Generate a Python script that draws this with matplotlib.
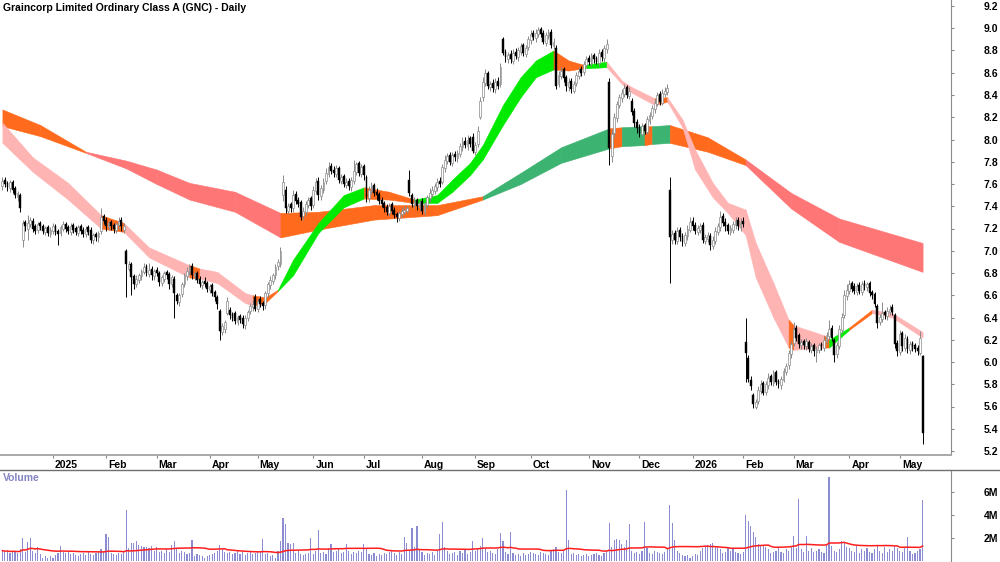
import numpy as np
import pandas as pd
import matplotlib
matplotlib.use("Agg")
import matplotlib.pyplot as plt
from matplotlib.lines import Line2D
from matplotlib.transforms import ScaledTranslation

plt.rcParams['font.family'] = ['Liberation Sans', 'DejaVu Sans']

title = "Graincorp Limited Ordinary Class A (GNC) - Daily"
holidays = ["2024-12-25", "2024-12-26", "2025-01-01", "2025-01-27", "2025-04-18",
            "2025-04-21", "2025-04-25", "2025-06-09", "2025-12-25", "2025-12-26",
            "2026-01-01", "2026-01-26", "2026-04-03", "2026-04-06"]

closes = [7.63, 7.60, 7.57, 7.62, 7.55, 7.50, 7.52, 7.38, 7.25, 7.22,
          7.25, 7.28, 7.20, 7.18, 7.24, 7.22, 7.18, 7.20, 7.16, 7.19,
          7.22, 7.17, 7.15, 7.21, 7.24, 7.20, 7.18, 7.22, 7.19, 7.17,
          7.21, 7.18, 7.15, 7.20, 7.17, 7.10, 7.14, 7.12, 7.16, 7.30,
          7.27, 7.22, 7.25, 7.22, 7.20, 7.24, 7.27, 7.22, 7.22, 6.88,
          6.88, 6.76, 6.70, 6.75, 6.78, 6.82, 6.85, 6.80, 6.83, 6.78,
          6.82, 6.80, 6.72, 6.76, 6.80, 6.78, 6.70, 6.76, 6.62, 6.55,
          6.60, 6.70, 6.78, 6.82, 6.85, 6.78, 6.80, 6.74, 6.70, 6.72,
          6.70, 6.66, 6.68, 6.62, 6.58, 6.52, 6.28, 6.32, 6.36, 6.55,
          6.42, 6.40, 6.37, 6.40, 6.38, 6.34, 6.40, 6.45, 6.50, 6.52,
          6.48, 6.55, 6.52, 6.50, 6.62, 6.70, 6.74, 6.78, 6.85, 6.90,
          7.00, 7.62, 7.38, 7.40, 7.38, 7.50, 7.45, 7.42, 7.30, 7.36,
          7.42, 7.46, 7.40, 7.55, 7.62, 7.50, 7.56, 7.62, 7.70, 7.75,
          7.72, 7.70, 7.74, 7.64, 7.66, 7.60, 7.62, 7.58, 7.64, 7.72,
          7.78, 7.70, 7.75, 7.68, 7.48, 7.55, 7.58, 7.52, 7.50, 7.45,
          7.42, 7.38, 7.35, 7.40, 7.36, 7.32, 7.30, 7.34, 7.36, 7.37,
          7.38, 7.52, 7.42, 7.45, 7.40, 7.44, 7.36, 7.42, 7.48, 7.52,
          7.55, 7.58, 7.62, 7.60, 7.75, 7.82, 7.85, 7.80, 7.86, 7.84,
          7.88, 7.94, 7.98, 7.95, 8.00, 7.96, 7.90, 7.95, 8.08, 8.35,
          8.52, 8.60, 8.48, 8.50, 8.46, 8.52, 8.48, 8.65, 8.78, 8.74,
          8.76, 8.72, 8.78, 8.75, 8.80, 8.84, 8.78, 8.82, 8.90, 8.95,
          8.92, 8.96, 8.98, 8.95, 8.88, 8.94, 8.96, 8.85, 8.88, 8.48,
          8.58, 8.62, 8.55, 8.48, 8.52, 8.45, 8.50, 8.58, 8.62, 8.60,
          8.68, 8.72, 8.70, 8.75, 8.72, 8.70, 8.78, 8.74, 8.82, 8.86,
          7.92, 8.05, 8.20, 8.32, 8.38, 8.42, 8.46, 8.40, 8.44, 8.25,
          8.15, 8.10, 8.06, 8.12, 8.08, 8.18, 8.22, 8.28, 8.33, 8.40,
          8.34, 8.42, 8.44, 8.46, 7.12, 7.15, 7.10, 7.18, 7.12, 7.08,
          7.14, 7.20, 7.26, 7.22, 7.18, 7.20, 7.22, 7.10, 7.12, 7.14,
          7.05, 7.10, 7.18, 7.22, 7.30, 7.25, 7.22, 7.18, 7.20, 7.24,
          7.27, 7.22, 7.26, 7.24, 6.08, 5.85, 5.78, 5.62, 5.64, 5.75,
          5.80, 5.72, 5.80, 5.86, 5.82, 5.90, 5.82, 5.80, 5.85, 5.92,
          5.96, 6.08, 6.16, 6.30, 6.22, 6.16, 6.18, 6.15, 6.19, 6.12,
          6.14, 6.10, 6.12, 6.15, 6.14, 6.20, 6.24, 6.30, 6.22, 6.06,
          6.15, 6.30, 6.40, 6.60, 6.65, 6.70, 6.66, 6.64, 6.68, 6.64,
          6.70, 6.68, 6.70, 6.62, 6.60, 6.52, 6.35, 6.40, 6.44, 6.42,
          6.46, 6.48, 6.45, 6.16, 6.10, 6.25, 6.14, 6.22, 6.12, 6.16,
          6.14, 6.12, 6.10, 6.22, 5.36]

opens = [7.58, 7.64, 7.61, 7.56, 7.62, 7.56, 7.48, 7.50, 7.10, 7.26,
         7.20, 7.24, 7.27, 7.22, 7.19, 7.25, 7.22, 7.17, 7.21, 7.15,
         7.18, 7.22, 7.18, 7.16, 7.20, 7.24, 7.21, 7.17, 7.23, 7.20,
         7.16, 7.22, 7.19, 7.15, 7.21, 7.19, 7.10, 7.15, 7.12, 7.18,
         7.31, 7.28, 7.21, 7.26, 7.23, 7.19, 7.23, 7.28, 7.19, 7.00,
         6.84, 6.88, 6.77, 6.70, 6.74, 6.77, 6.81, 6.86, 6.79, 6.84,
         6.77, 6.83, 6.80, 6.71, 6.75, 6.81, 6.79, 6.70, 6.75, 6.60,
         6.54, 6.61, 6.70, 6.77, 6.81, 6.86, 6.77, 6.80, 6.75, 6.69,
         6.73, 6.71, 6.65, 6.69, 6.63, 6.58, 6.46, 6.27, 6.30, 6.44,
         6.47, 6.43, 6.44, 6.36, 6.41, 6.40, 6.33, 6.40, 6.46, 6.49,
         6.58, 6.48, 6.57, 6.53, 6.51, 6.62, 6.69, 6.73, 6.78, 6.86,
         6.88, 7.50, 7.55, 7.36, 7.42, 7.38, 7.51, 7.46, 7.44, 7.31,
         7.35, 7.41, 7.47, 7.41, 7.54, 7.63, 7.49, 7.55, 7.63, 7.69,
         7.76, 7.73, 7.69, 7.74, 7.63, 7.67, 7.59, 7.63, 7.57, 7.63,
         7.71, 7.79, 7.69, 7.76, 7.66, 7.47, 7.54, 7.59, 7.53, 7.51,
         7.46, 7.43, 7.39, 7.34, 7.42, 7.37, 7.33, 7.29, 7.33, 7.35,
         7.36, 7.64, 7.50, 7.41, 7.46, 7.39, 7.45, 7.35, 7.41, 7.47,
         7.51, 7.54, 7.57, 7.63, 7.62, 7.74, 7.81, 7.86, 7.79, 7.87,
         7.83, 7.87, 7.93, 7.99, 7.94, 8.01, 8.02, 7.89, 7.96, 8.20,
         8.38, 8.51, 8.60, 8.47, 8.51, 8.45, 8.53, 8.50, 8.90, 8.79,
         8.72, 8.77, 8.71, 8.79, 8.74, 8.79, 8.85, 8.77, 8.83, 8.89,
         8.96, 8.91, 8.95, 8.99, 8.96, 8.87, 8.93, 8.97, 8.84, 8.82,
         8.50, 8.57, 8.63, 8.56, 8.47, 8.53, 8.44, 8.51, 8.57, 8.63,
         8.61, 8.67, 8.73, 8.69, 8.76, 8.73, 8.69, 8.79, 8.73, 8.81,
         8.52, 7.85, 8.06, 8.19, 8.31, 8.37, 8.41, 8.47, 8.39, 8.35,
         8.26, 8.16, 8.11, 8.05, 8.13, 8.07, 8.17, 8.21, 8.27, 8.32,
         8.41, 8.33, 8.41, 8.43, 7.55, 7.10, 7.16, 7.09, 7.19, 7.13,
         7.07, 7.13, 7.19, 7.27, 7.23, 7.17, 7.19, 7.23, 7.09, 7.11,
         7.13, 7.04, 7.09, 7.17, 7.21, 7.31, 7.26, 7.23, 7.17, 7.19,
         7.23, 7.28, 7.21, 7.27, 6.18, 6.04, 5.84, 5.70, 5.60, 5.65,
         5.74, 5.81, 5.73, 5.79, 5.87, 5.81, 5.91, 5.83, 5.79, 5.84,
         5.91, 5.97, 6.07, 6.17, 6.31, 6.24, 6.15, 6.19, 6.14, 6.18,
         6.11, 6.15, 6.09, 6.11, 6.16, 6.13, 6.19, 6.23, 6.31, 6.20,
         6.07, 6.14, 6.29, 6.42, 6.59, 6.64, 6.71, 6.68, 6.63, 6.69,
         6.63, 6.71, 6.67, 6.71, 6.63, 6.61, 6.50, 6.36, 6.39, 6.45,
         6.41, 6.45, 6.49, 6.42, 6.17, 6.09, 6.26, 6.13, 6.21, 6.11,
         6.17, 6.15, 6.13, 6.08, 6.05]

highs = [7.66, 7.66, 7.63, 7.64, 7.64, 7.58, 7.54, 7.52, 7.28, 7.28,
         7.32, 7.30, 7.29, 7.24, 7.26, 7.27, 7.24, 7.22, 7.23, 7.21,
         7.25, 7.24, 7.20, 7.23, 7.27, 7.26, 7.23, 7.25, 7.25, 7.22,
         7.23, 7.24, 7.21, 7.22, 7.23, 7.21, 7.16, 7.17, 7.18, 7.38,
         7.33, 7.30, 7.27, 7.28, 7.25, 7.26, 7.30, 7.30, 7.25, 7.02,
         6.91, 6.90, 6.79, 6.78, 6.80, 6.84, 6.89, 6.88, 6.89, 6.86,
         6.84, 6.85, 6.82, 6.78, 6.82, 6.83, 6.81, 6.78, 6.77, 6.62,
         6.62, 6.72, 6.80, 6.85, 6.88, 6.89, 6.82, 6.82, 6.77, 6.74,
         6.76, 6.73, 6.70, 6.71, 6.65, 6.60, 6.48, 6.35, 6.38, 6.58,
         6.49, 6.45, 6.46, 6.42, 6.43, 6.42, 6.42, 6.47, 6.53, 6.56,
         6.61, 6.57, 6.59, 6.55, 6.64, 6.72, 6.77, 6.80, 6.88, 6.93,
         7.03, 7.68, 7.58, 7.43, 7.44, 7.55, 7.54, 7.48, 7.46, 7.39,
         7.45, 7.48, 7.49, 7.58, 7.65, 7.66, 7.59, 7.65, 7.74, 7.80,
         7.79, 7.76, 7.77, 7.76, 7.69, 7.69, 7.65, 7.65, 7.66, 7.82,
         7.80, 7.81, 7.78, 7.78, 7.68, 7.58, 7.62, 7.61, 7.56, 7.53,
         7.48, 7.45, 7.42, 7.43, 7.44, 7.39, 7.35, 7.36, 7.39, 7.40,
         7.40, 7.73, 7.52, 7.48, 7.47, 7.46, 7.47, 7.44, 7.50, 7.56,
         7.58, 7.61, 7.65, 7.66, 7.78, 7.86, 7.88, 7.89, 7.89, 7.90,
         7.91, 7.97, 8.02, 8.02, 8.04, 8.03, 8.06, 7.98, 8.12, 8.38,
         8.56, 8.63, 8.62, 8.53, 8.54, 8.55, 8.56, 8.69, 8.92, 8.81,
         8.79, 8.80, 8.81, 8.82, 8.83, 8.87, 8.87, 8.85, 8.93, 8.98,
         8.98, 8.99, 9.01, 9.01, 8.98, 8.97, 8.99, 8.99, 8.91, 8.85,
         8.62, 8.65, 8.65, 8.58, 8.55, 8.55, 8.53, 8.61, 8.65, 8.66,
         8.71, 8.75, 8.76, 8.78, 8.78, 8.75, 8.81, 8.81, 8.85, 8.90,
         8.55, 8.09, 8.24, 8.35, 8.41, 8.45, 8.50, 8.49, 8.47, 8.37,
         8.28, 8.18, 8.14, 8.15, 8.15, 8.21, 8.25, 8.31, 8.36, 8.43,
         8.44, 8.45, 8.47, 8.50, 7.66, 7.19, 7.19, 7.21, 7.21, 7.16,
         7.17, 7.23, 7.30, 7.30, 7.26, 7.23, 7.25, 7.26, 7.15, 7.17,
         7.16, 7.13, 7.21, 7.25, 7.36, 7.34, 7.29, 7.25, 7.23, 7.27,
         7.30, 7.30, 7.29, 7.30, 6.40, 6.06, 5.87, 5.72, 5.67, 5.78,
         5.84, 5.83, 5.83, 5.90, 5.89, 5.93, 5.93, 5.85, 5.87, 5.95,
         5.99, 6.11, 6.19, 6.36, 6.33, 6.26, 6.21, 6.21, 6.22, 6.20,
         6.17, 6.17, 6.14, 6.17, 6.18, 6.23, 6.27, 6.38, 6.33, 6.22,
         6.18, 6.33, 6.44, 6.65, 6.70, 6.74, 6.73, 6.71, 6.71, 6.72,
         6.73, 6.74, 6.72, 6.73, 6.65, 6.63, 6.52, 6.43, 6.54, 6.47,
         6.49, 6.51, 6.52, 6.44, 6.20, 6.29, 6.28, 6.25, 6.23, 6.19,
         6.19, 6.17, 6.15, 6.28, 6.06]

lows = [7.55, 7.57, 7.54, 7.53, 7.52, 7.47, 7.45, 7.35, 7.03, 7.18,
        7.10, 7.21, 7.17, 7.15, 7.16, 7.19, 7.15, 7.14, 7.13, 7.12,
        7.15, 7.14, 7.05, 7.13, 7.18, 7.17, 7.15, 7.14, 7.16, 7.14,
        7.13, 7.15, 7.12, 7.12, 7.14, 7.07, 7.06, 7.09, 7.08, 7.15,
        7.24, 7.18, 7.19, 7.19, 7.16, 7.16, 7.20, 7.18, 7.16, 6.58,
        6.82, 6.60, 6.66, 6.67, 6.71, 6.74, 6.79, 6.77, 6.76, 6.74,
        6.74, 6.77, 6.68, 6.68, 6.72, 6.75, 6.66, 6.67, 6.40, 6.52,
        6.50, 6.58, 6.67, 6.74, 6.78, 6.75, 6.74, 6.71, 6.67, 6.66,
        6.67, 6.63, 6.62, 6.59, 6.55, 6.48, 6.20, 6.24, 6.26, 6.42,
        6.39, 6.37, 6.34, 6.33, 6.35, 6.31, 6.30, 6.37, 6.43, 6.46,
        6.46, 6.45, 6.49, 6.47, 6.48, 6.58, 6.66, 6.70, 6.75, 6.83,
        6.85, 7.45, 7.34, 7.33, 7.35, 7.35, 7.42, 7.39, 7.28, 7.28,
        7.32, 7.38, 7.37, 7.38, 7.51, 7.46, 7.46, 7.52, 7.60, 7.66,
        7.69, 7.66, 7.66, 7.61, 7.60, 7.57, 7.56, 7.55, 7.54, 7.60,
        7.68, 7.67, 7.66, 7.64, 7.44, 7.44, 7.51, 7.49, 7.46, 7.42,
        7.39, 7.35, 7.32, 7.31, 7.33, 7.29, 7.26, 7.27, 7.30, 7.33,
        7.34, 7.49, 7.39, 7.38, 7.37, 7.36, 7.33, 7.32, 7.38, 7.44,
        7.48, 7.51, 7.54, 7.57, 7.60, 7.71, 7.78, 7.77, 7.76, 7.81,
        7.80, 7.84, 7.90, 7.92, 7.91, 7.93, 7.88, 7.86, 7.93, 8.18,
        8.35, 8.48, 8.45, 8.44, 8.43, 8.42, 8.45, 8.47, 8.76, 8.70,
        8.69, 8.69, 8.68, 8.72, 8.71, 8.76, 8.75, 8.74, 8.80, 8.86,
        8.89, 8.88, 8.92, 8.92, 8.86, 8.84, 8.90, 8.82, 8.81, 8.45,
        8.47, 8.54, 8.52, 8.44, 8.44, 8.42, 8.42, 8.48, 8.54, 8.57,
        8.58, 8.64, 8.67, 8.66, 8.69, 8.68, 8.66, 8.71, 8.70, 8.78,
        7.77, 7.80, 8.02, 8.16, 8.28, 8.34, 8.38, 8.37, 8.36, 8.22,
        8.11, 8.06, 8.02, 8.03, 8.05, 8.05, 8.14, 8.18, 8.24, 8.30,
        8.31, 8.31, 8.38, 8.40, 6.71, 7.06, 7.06, 7.06, 7.09, 7.04,
        7.04, 7.10, 7.17, 7.19, 7.15, 7.14, 7.16, 7.07, 7.06, 7.08,
        7.01, 7.02, 7.06, 7.14, 7.18, 7.22, 7.18, 7.15, 7.14, 7.16,
        7.20, 7.19, 7.18, 7.21, 5.82, 5.82, 5.75, 5.59, 5.58, 5.62,
        5.71, 5.70, 5.70, 5.76, 5.79, 5.78, 5.79, 5.77, 5.76, 5.82,
        5.88, 5.94, 6.04, 6.14, 6.19, 6.13, 6.12, 6.12, 6.11, 6.09,
        6.08, 6.05, 6.00, 6.08, 6.11, 6.10, 6.16, 6.20, 6.19, 6.00,
        6.04, 6.12, 6.26, 6.40, 6.56, 6.61, 6.63, 6.61, 6.60, 6.61,
        6.60, 6.65, 6.64, 6.59, 6.57, 6.49, 6.31, 6.33, 6.36, 6.39,
        6.38, 6.42, 6.42, 6.13, 6.05, 6.06, 6.10, 6.10, 6.08, 6.07,
        6.10, 6.09, 6.06, 6.06, 5.26]

volume_m = [0.9, 0.8, 0.9, 0.7, 0.9, 0.8, 0.7, 1.0, 2.0, 0.8,
            1.65, 2.0, 0.9, 0.7, 1.2, 0.6, 0.3, 0.4, 0.3, 0.4,
            0.3, 0.5, 0.7, 1.3, 0.8, 0.7, 0.9, 0.6, 0.7, 0.5,
            0.4, 0.6, 0.7, 0.5, 0.8, 0.6, 0.5, 0.7, 0.8, 1.0,
            0.8, 2.3, 2.1, 0.7, 0.6, 0.5, 0.7, 0.6, 0.8, 4.4,
            1.1, 1.6, 1.6, 1.7, 1.4, 1.3, 1.2, 1.2, 1.1, 1.3,
            0.9, 1.2, 0.8, 0.9, 0.7, 1.0, 0.8, 1.4, 1.7, 1.1,
            0.7, 0.9, 0.8, 0.6, 0.7, 1.8, 0.4, 0.6, 0.5, 0.4,
            0.3, 0.4, 0.5, 0.6, 0.7, 0.9, 1.4, 1.0, 0.8, 0.7,
            0.8, 0.6, 0.7, 0.9, 0.6, 0.8, 0.5, 0.7, 0.8, 0.6,
            0.7, 0.9, 0.8, 1.9, 0.6, 0.7, 0.4, 0.5, 0.3, 0.9,
            1.7, 3.7, 3.2, 1.6, 1.5, 1.6, 0.7, 0.9, 0.6, 0.5,
            0.6, 0.7, 2.0, 0.6, 0.9, 2.7, 0.7, 0.8, 0.6, 1.1,
            1.5, 0.8, 0.9, 1.0, 0.7, 0.8, 1.5, 0.9, 0.6, 0.8,
            0.7, 0.9, 0.8, 1.5, 1.1, 0.6, 0.5, 0.7, 0.4, 0.6,
            0.5, 0.7, 0.6, 0.8, 0.9, 0.7, 0.5, 0.8, 0.6, 2.1,
            1.6, 0.9, 2.9, 1.2, 3.0, 1.0, 0.8, 0.5, 0.7, 0.6,
            0.8, 0.5, 0.9, 2.3, 3.4, 1.2, 0.9, 0.6, 0.7, 0.8,
            0.5, 0.9, 0.7, 1.0, 0.6, 0.8, 1.7, 0.9, 1.1, 1.3,
            2.0, 1.1, 0.8, 0.9, 0.7, 0.6, 1.0, 2.4, 1.7, 0.8,
            0.6, 2.5, 0.7, 0.5, 0.6, 0.4, 0.7, 0.5, 0.6, 0.8,
            0.7, 0.6, 0.5, 0.8, 0.7, 0.6, 0.5, 0.9, 1.0, 1.2,
            0.8, 0.7, 0.9, 6.2, 1.8, 0.6, 0.7, 0.5, 0.6, 0.4,
            0.5, 0.6, 0.4, 0.5, 0.6, 0.7, 0.5, 0.4, 0.7, 0.9,
            3.3, 1.2, 1.8, 1.9, 1.8, 1.5, 1.2, 1.8, 3.2, 0.9,
            0.7, 0.8, 0.6, 0.9, 3.4, 1.1, 0.7, 0.6, 0.9, 0.8,
            0.7, 0.6, 0.8, 1.0, 4.9, 3.3, 1.8, 0.9, 0.7, 0.5,
            0.4, 0.5, 0.3, 0.4, 0.6, 0.5, 0.9, 1.1, 1.3, 1.4,
            1.5, 1.6, 1.3, 1.2, 1.0, 0.7, 0.8, 1.1, 0.9, 1.0,
            0.8, 0.7, 0.6, 0.8, 4.0, 3.5, 3.0, 2.5, 2.1, 1.5,
            1.3, 1.4, 1.2, 1.0, 0.7, 0.8, 0.9, 1.1, 0.8, 0.7,
            1.0, 0.9, 1.3, 2.2, 1.1, 5.4, 1.0, 0.8, 2.2, 0.9,
            1.1, 0.8, 0.9, 1.0, 0.8, 0.7, 1.4, 7.3, 1.3, 0.9,
            0.8, 1.0, 1.7, 1.6, 1.2, 1.1, 0.9, 0.8, 1.3, 0.7,
            1.0, 0.9, 1.1, 0.8, 0.7, 1.0, 1.3, 0.9, 0.7, 1.2,
            0.8, 1.0, 0.9, 1.3, 1.1, 0.9, 0.8, 1.1, 2.1, 0.9,
            0.6, 0.7, 0.9, 1.0, 5.3]

# Long-term moving-average ribbon (bar index, upper, lower, colour of following segment)
long_idx = [0, 15, 33, 49, 61, 74, 92, 110, 125, 147, 172, 190, 205, 221,
            240, 245, 254, 257, 264, 279, 294, 312, 331, 364]
long_top = [8.27, 8.13, 7.89, 7.81, 7.73, 7.61, 7.53, 7.34, 7.35, 7.41, 7.41, 7.49, 7.70, 7.93,
            8.10, 8.11, 8.12, 8.12, 8.13, 8.02, 7.82, 7.52, 7.29, 7.07]
long_bot = [8.12, 8.03, 7.88, 7.74, 7.60, 7.46, 7.35, 7.12, 7.19, 7.28, 7.32, 7.46, 7.60, 7.79,
            7.92, 7.94, 7.95, 7.96, 7.97, 7.89, 7.77, 7.38, 7.08, 6.81]
long_col = ['o', 'o', 'r', 'r', 'r', 'r', 'r', 'o', 'o', 'o', 'o', 'g', 'g', 'g',
            'o', 'g', 'o', 'g', 'o', 'o', 'r', 'r', 'r']

# Short-term moving-average ribbon
short_idx = [0, 12, 26, 39, 48, 58, 74, 78, 85, 96, 99, 104, 109, 115, 125, 135, 143,
             153, 163, 172, 178, 185, 190, 198, 205, 211, 218, 224, 230, 239, 245,
             249, 258, 263, 269, 274, 281, 287, 294, 298, 305, 311, 313, 325, 327,
             335, 344, 352, 364]
short_top = [8.15, 7.84, 7.61, 7.32, 7.25, 7.03, 6.87, 6.84, 6.81, 6.62, 6.60, 6.58, 6.65,
             6.92, 7.25, 7.50, 7.57, 7.53, 7.46, 7.50, 7.64, 7.79, 7.95, 8.31, 8.56, 8.71,
             8.80, 8.71, 8.67, 8.70, 8.53, 8.47, 8.37, 8.38, 8.18, 7.91, 7.61, 7.43, 7.37,
             7.07, 6.71, 6.38, 6.33, 6.24, 6.20, 6.31, 6.47, 6.44, 6.27]
short_bot = [7.97, 7.71, 7.46, 7.20, 7.17, 6.94, 6.76, 6.75, 6.71, 6.53, 6.51, 6.53, 6.64,
             6.78, 7.16, 7.39, 7.47, 7.46, 7.43, 7.43, 7.53, 7.68, 7.82, 8.13, 8.38, 8.56,
             8.63, 8.62, 8.64, 8.65, 8.50, 8.42, 8.31, 8.34, 8.11, 7.73, 7.48, 7.34, 7.14,
             6.76, 6.40, 6.13, 6.11, 6.13, 6.13, 6.29, 6.44, 6.40, 6.22]
short_col = ['p', 'p', 'p', 'o', 'p', 'p', 'o', 'p', 'p', 'p', 'o', 'o', 'g', 'g', 'g',
             'g', 'o', 'o', 'g', 'g', 'g', 'g', 'g', 'g', 'g', 'g', 'o', 'o', 'g', 'p',
             'p', 'p', 'o', 'p', 'p', 'p', 'p', 'p', 'p', 'p', 'p', 'o', 'p', 'o', 'g',
             'o', 'p', 'p']

long_colors = {'o': '#FF6A1C', 'r': '#FF7676', 'g': '#3CB371'}
short_colors = {'o': '#FF6A1C', 'p': '#FFB4B4', 'g': '#00EA00'}

# ---------------------------------------------------------------
o = np.array(opens); c = np.array(closes); h = np.array(highs); l = np.array(lows)
vol = np.array(volume_m)
n = len(c)
x = np.arange(n)

dates = pd.bdate_range("2024-12-02", periods=n + 40, freq="C", holidays=holidays)[:n]

W, H = 1000, 562
fig = plt.figure(figsize=(W / 100, H / 100), dpi=100)
ax = fig.add_axes([0, 1 - 455 / H, 951 / W, 455 / H])
axv = fig.add_axes([0, 0, 951 / W, 1 - 470 / H])

xmin, xmax = (0 - 2.4) / 2.528, (951 - 2.4) / 2.528
ax.set_xlim(xmin, xmax)
ax.set_ylim(9.2 - 449 / 111.25, 9.2 + 6 / 111.25)
axv.set_xlim(xmin, xmax)
axv.set_ylim(-0.09, 7.9)


def draw_band(axis, idx, top, bot, cols, cmap, z):
    for k in range(len(idx) - 1):
        col = cmap[cols[k]]
        axis.fill_between([idx[k], idx[k + 1]], [bot[k], bot[k + 1]], [top[k], top[k + 1]],
                          facecolor=col, edgecolor=col, linewidth=0.4, zorder=z)


draw_band(ax, long_idx, long_top, long_bot, long_col, long_colors, 1)
draw_band(ax, short_idx, short_top, short_bot, short_col, short_colors, 2)

up = c >= o
grey = '#8A8A8A'
ax.vlines(x[up], l[up], h[up], color=grey, linewidth=0.7, zorder=3)
ax.vlines(x[~up], l[~up], h[~up], color='black', linewidth=0.7, zorder=3)
body = np.maximum(np.abs(c - o), 0.006)
ax.bar(x[up], body[up], bottom=np.minimum(o, c)[up], width=0.72, facecolor='white',
       edgecolor=grey, linewidth=0.5, zorder=4)
ax.bar(x[~up], body[~up], bottom=np.minimum(o, c)[~up], width=0.72, facecolor='black',
       edgecolor='black', linewidth=0.3, zorder=4)

# volume
axv.bar(x, vol, width=0.45, color='#8C8CD2', zorder=2)
vma = pd.Series(vol).rolling(40, min_periods=1).mean()
axv.plot(x, vma, color='#FF1E1E', linewidth=1.1, zorder=3)

# axes styling
for a in (ax, axv):
    a.spines['left'].set_visible(False)
    a.spines['top'].set_visible(False)
    a.spines['right'].set_color('#8A8A8A')
    a.yaxis.tick_right()
    a.tick_params(axis='y', length=2.5, color='#8A8A8A', pad=21, labelsize=7.5)
    for t in a.get_yticklabels():
        t.set_fontweight('bold')
axv.spines['bottom'].set_visible(False)
ax.spines['bottom'].set_color('#A8A8A8')
ax.spines['bottom'].set_linewidth(1.4)

yt = np.round(np.arange(5.2, 9.21, 0.2), 1)
ax.set_yticks(yt)
ax.set_yticklabels([f"{v:.1f}" for v in yt], fontweight='bold', fontsize=7.5)
axv.set_yticks([2, 4, 6])
axv.set_yticklabels(['2M', '4M', '6M'], fontweight='bold', fontsize=7.5)

# month ticks
months = pd.Series(dates.to_period('M'))
starts = [i for i in range(1, n) if months[i] != months[i - 1]]
labels = [str(dates[i].year) if dates[i].month == 1 else dates[i].strftime('%b') for i in starts]
ax.set_xticks(starts)
ax.set_xticklabels(labels, fontweight='bold', fontsize=7.5)
ax.tick_params(axis='x', length=2.5, color='#8A8A8A', pad=1.0, direction='out')
off = ScaledTranslation(2 / 100, 0, fig.dpi_scale_trans)
for t in ax.get_xticklabels():
    t.set_horizontalalignment('left')
    t.set_transform(t.get_transform() + off)
axv.set_xticks([])

# separator line under the date strip
fig.add_artist(Line2D([0, 1], [1 - 469.5 / H, 1 - 469.5 / H], transform=fig.transFigure,
                      color='#707070', linewidth=1.0))

fig.text(3 / W, 1 - 8 / H, title, fontsize=7.5, fontweight='bold', va='center', ha='left')
axv.text(3 / 951, (562 - 478) / 92, 'Volume', transform=axv.transAxes, fontsize=7.5,
         fontweight='bold', color='#8484C4', va='center', ha='left')

fig.savefig('out.png', dpi=100)
